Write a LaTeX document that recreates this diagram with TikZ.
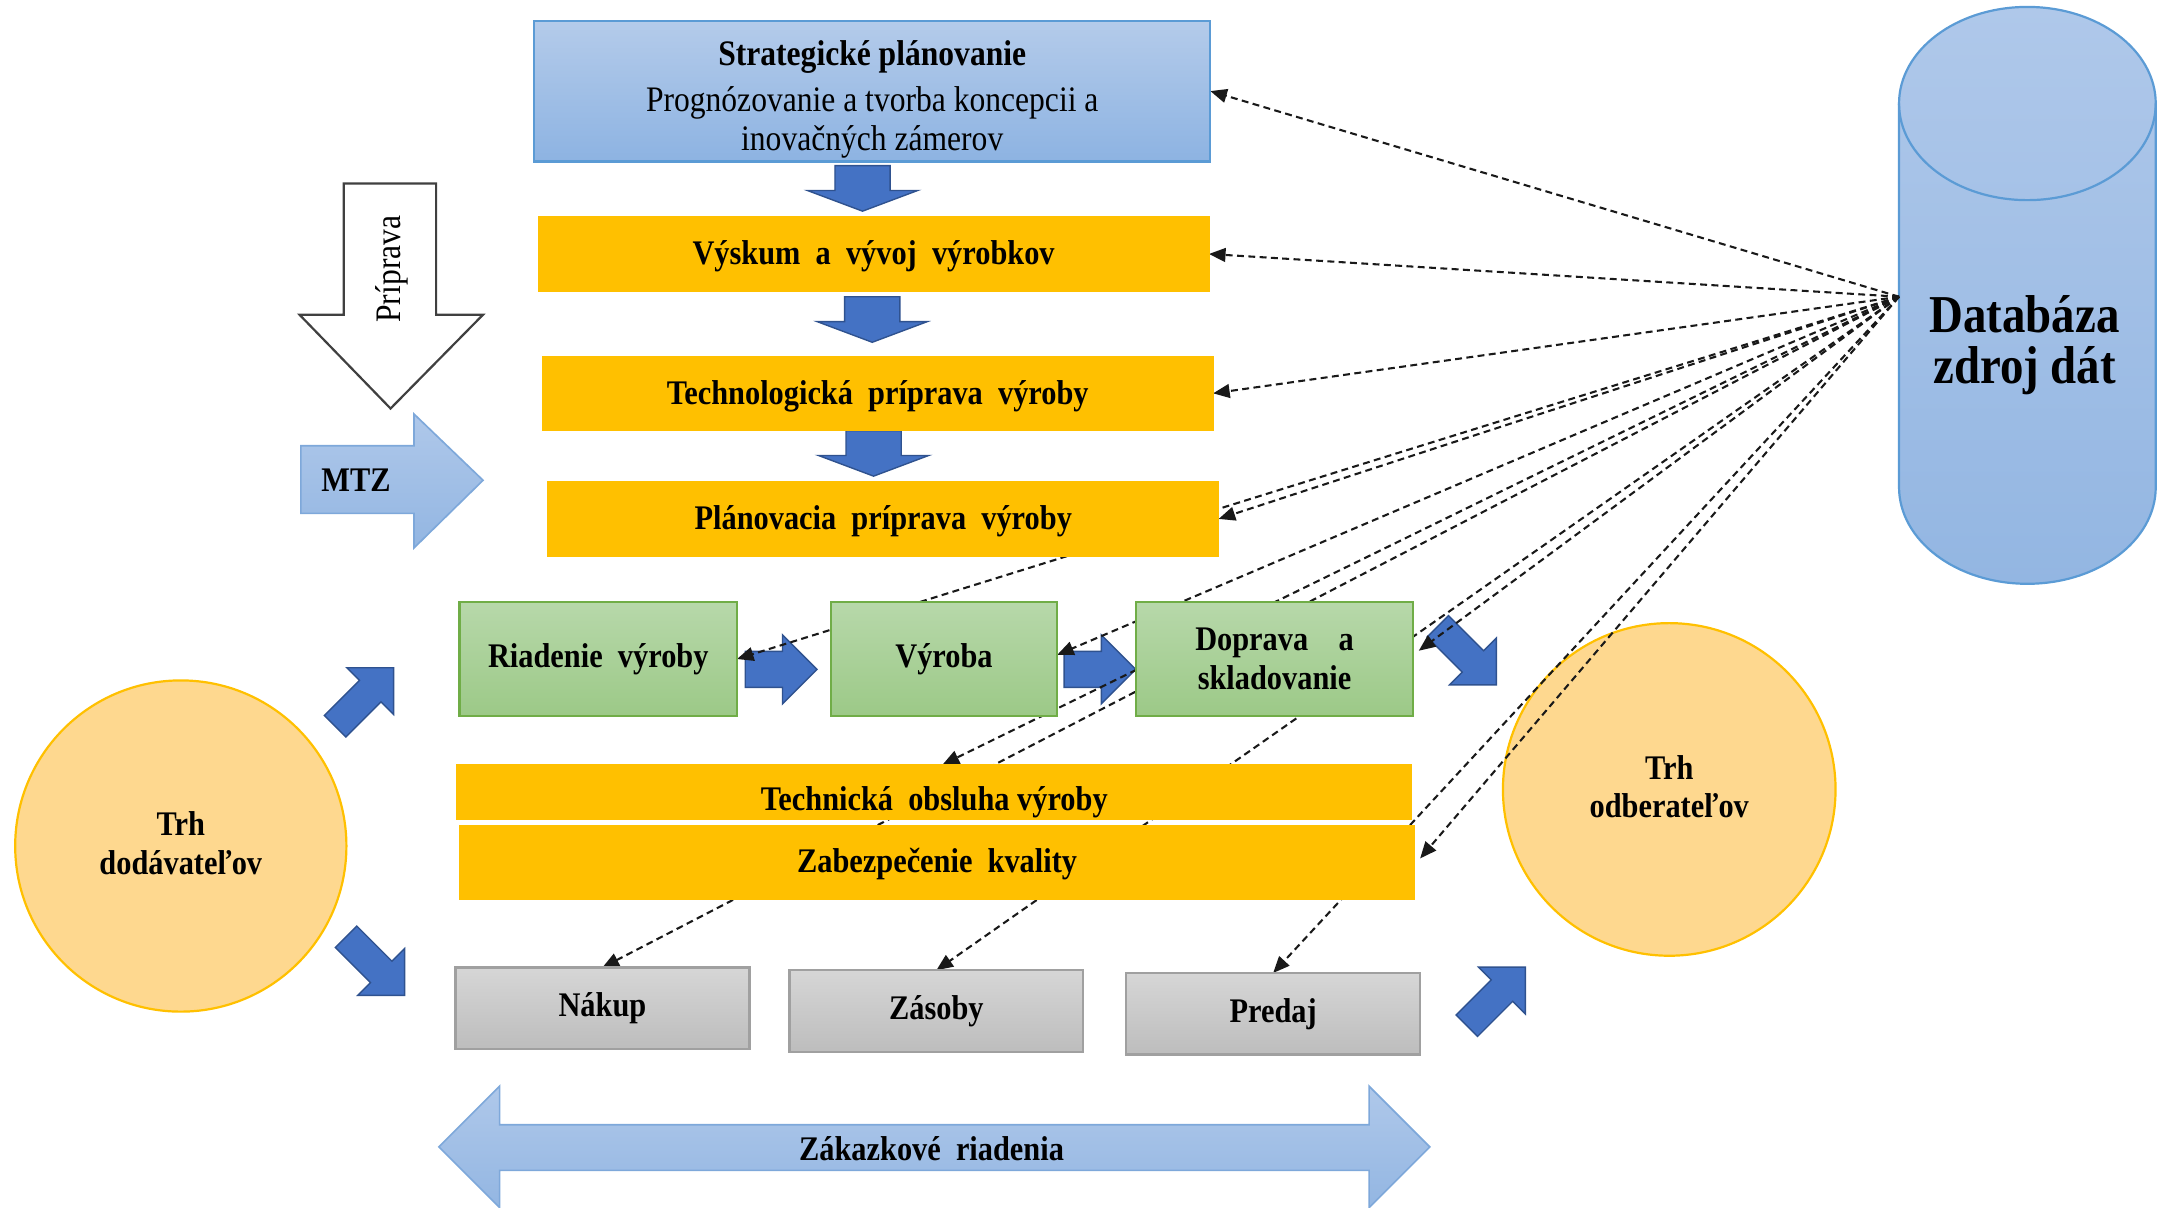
\documentclass[tikz,border=0pt]{standalone}
\usepackage{fontspec}
\setmainfont{Liberation Serif}[FakeStretch=0.88]
\usetikzlibrary{arrows.meta,calc}

\definecolor{ylw}{HTML}{FFC000}
\definecolor{grnT}{HTML}{B7D8AA}
\definecolor{grnB}{HTML}{9CC987}
\definecolor{grnE}{HTML}{70AD47}
\definecolor{bluT}{HTML}{B4CBEA}
\definecolor{bluB}{HTML}{8DB3E2}
\definecolor{bluE}{HTML}{5B9BD5}
\definecolor{gryT}{HTML}{D6D6D6}
\definecolor{gryB}{HTML}{BDBDBD}
\definecolor{gryE}{HTML}{A0A0A0}
\definecolor{arrB}{HTML}{4472C4}
\definecolor{arrE}{HTML}{2F528F}
\definecolor{circF}{HTML}{FED88F}
\definecolor{lbT}{HTML}{AFC8EA}
\definecolor{lbB}{HTML}{93B6E2}
\definecolor{lbE}{HTML}{7EA8DA}

\pgfdeclarelayer{back}
\pgfdeclarelayer{links}
\pgfsetlayers{back,links,main}

\tikzset{
  downarr/.pic={\path[barrow] (-20,0) -- (20,0) -- (20,18) -- (40,18) -- (0,33) -- (-40,18) -- (-20,18) -- cycle;},
  rightarr/.pic={\path[barrow] (0,-13) -- (27,-13) -- (27,-25) -- (52,0) -- (27,25) -- (27,13) -- (0,13) -- cycle;},
  diagarr/.pic={\path[barrow] (-30,-11) -- (6,-11) -- (6,-24) -- (30,0) -- (6,24) -- (6,11) -- (-30,11) -- cycle;}
}

\begin{document}
\begin{tikzpicture}[x=0.5pt,y=-0.5pt,
  every node/.style={inner sep=0pt, outer sep=0pt, align=center,
    font=\fontsize{12.5}{14}\selectfont\bfseries},
  sky/.style={rectangle, top color=bluT, bottom color=bluB, draw=bluE, line width=0.8pt},
  ybox/.style={rectangle, fill=ylw, draw=ylw, line width=0.4pt, minimum width=243pt, minimum height=27pt},
  gbox/.style={rectangle, top color=grnT, bottom color=grnB, draw=grnE, line width=0.8pt, minimum height=41.5pt},
  sbox/.style={rectangle, top color=gryT, bottom color=gryB, draw=gryE, line width=0.8pt, minimum width=106.5pt, minimum height=29.5pt},
  market/.style={circle, fill=circF, draw=ylw, line width=0.8pt},
  barrow/.style={fill=arrB, draw=arrE, line width=0.5pt},
  larrow/.style={top color=lbT, bottom color=lbB, draw=lbE, line width=0.6pt},
  warrow/.style={fill=white, draw=black!75, line width=0.8pt},
  cyl/.style={top color=lbT, bottom color=lbB, draw=bluE, line width=0.8pt},
  dline/.style={draw=black!90, line width=0.75pt, dash pattern=on 2.5pt off 1.6pt,
    -{Triangle[length=6pt,width=5pt]}}
]
\useasboundingbox (0,0) rectangle (1568,875);

% ---------- background shapes ----------
\begin{pgfonlayer}{back}
  % data source cylinder
  \path[cyl] (1376,75) -- (1376,353)
    arc[start angle=180, end angle=0, x radius=93, y radius=70]
    -- (1562,75)
    arc[start angle=0, end angle=-180, x radius=93, y radius=70] -- cycle;
  \draw[bluE, line width=0.8pt] (1376,75)
    arc[start angle=180, end angle=0, x radius=93, y radius=70];

  % markets
  \node[market, minimum size=120pt] (dod) at (131,613) {};
  \node[market, minimum size=120.5pt] (odb) at (1209.5,572) {};

  % block arrows
  \pic (d1) at (625,120) {downarr};
  \pic (d2) at (632,215) {downarr};
  \pic (d3) at (633,312) {downarr};
  \pic (r1) at (540,485) {rightarr};
  \pic (r2) at (771,485) {rightarr};
  \pic[rotate=45]  (a1) at (264,505) {diagarr};
  \pic[rotate=-45] (a2) at (272,700) {diagarr};
  \pic[rotate=-45] (a3) at (1063,475) {diagarr};
  \pic[rotate=45]  (a4) at (1084,722) {diagarr};

  % preparation arrow
  \path[warrow] (249,133) -- (316,133) -- (316,228) -- (350,228) -- (283,296)
    -- (217,228) -- (249,228) -- cycle;
  % MTZ arrow
  \path[larrow] (218,323) -- (300,323) -- (300,300) -- (350,348) -- (300,397)
    -- (300,372) -- (218,372) -- cycle;
  % order management double arrow
  \path[larrow] (318,831) -- (362,787) -- (362,815) -- (992,815) -- (992,787)
    -- (1036,831) -- (992,875) -- (992,848) -- (362,848) -- (362,875) -- cycle;
\end{pgfonlayer}

\node (doddtxt) at (131,611) {Trh\\dodávateľov};
\node (odbtxt) at (1209.5,570) {Trh\\odberateľov};
\node[font=\fontsize{13}{14}\selectfont, rotate=90] (prip) at (284,195) {Príprava};
\node (mtz) at (258,348) {MTZ};
\node (zak) at (675,832) {Zákazkové~ riadenia};
\node[font=\fontsize{19.3}{18.5}\selectfont\bfseries] (db) at (1467,250) {Databáza\\zdroj dát};
\coordinate (dbp) at (1376,215);

% ---------- process boxes ----------
\node[sky, minimum width=245pt, minimum height=51pt] (strat) at (632,66) {};
\node[font=\fontsize{13}{14}\selectfont] (strtxt) at (632,72)
  {\textbf{Strategické plánovanie}\\[2.5pt]Prognózovanie a tvorba koncepcii a\\inovačných zámerov};
\node[ybox] (vysk) at (633,184) {};
\node (vysktxt) at (633,186) {Výskum~ a~ vývoj~ výrobkov};
\node[ybox] (tech) at (636,285) {};
\node (techtxt) at (636,287) {Technologická~ príprava~ výroby};
\node[ybox] (plan) at (640,376) {};
\node (plantxt) at (640,378) {Plánovacia~ príprava~ výroby};

\node[gbox, minimum width=100.5pt] (riad) at (433.5,477.5) {Riadenie~ výroby};
\node[gbox, minimum width=82pt] (vyro) at (684,477.5) {Výroba};
\node[gbox, minimum width=100.5pt] (dopr) at (923.5,477.5) {Doprava~ ~ a\\skladovanie};

\node[ybox, minimum width=346pt, minimum height=20pt] (tobs) at (677,574) {};
\node (tobstxt) at (677,581) {Technická~ obsluha výroby};
\node[ybox, minimum width=346pt, minimum height=27pt] (zabk) at (679,625) {};
\node (zabktxt) at (679,626) {Zabezpečenie~ kvality};

\node[sbox] (naku) at (436.5,730.5) {Nákup};
\node[sbox] (zaso) at (678.5,732.5) {Zásoby};
\node[sbox] (pred) at (922.5,734.5) {Predaj};

% ---------- information flows from the database ----------
\begin{pgfonlayer}{links}
  \draw[dline] (dbp) -- (strat.east);
  \draw[dline] (dbp) -- (vysk.east);
  \draw[dline] (dbp) -- (tech.east);
  \draw[dline] (dbp) -- (plan.east);
  \draw[dline] (dbp) -- (riad.east);
  \draw[dline] (dbp) -- ($(vyro.east)+(0,-3)$);
  \draw[dline] (dbp) -- ($(tobs.north)+(6,0)$);
  \draw[dline] (dbp) -- ($(dopr.east)+(4,-6)$);
  \draw[dline] (dbp) -- ($(zabk.east)+(4,-3)$);
  \draw[dline] (dbp) -- (naku.north);
  \draw[dline] (dbp) -- (zaso.north);
  \draw[dline] (dbp) -- (pred.north);
\end{pgfonlayer}
\end{tikzpicture}
\end{document}
